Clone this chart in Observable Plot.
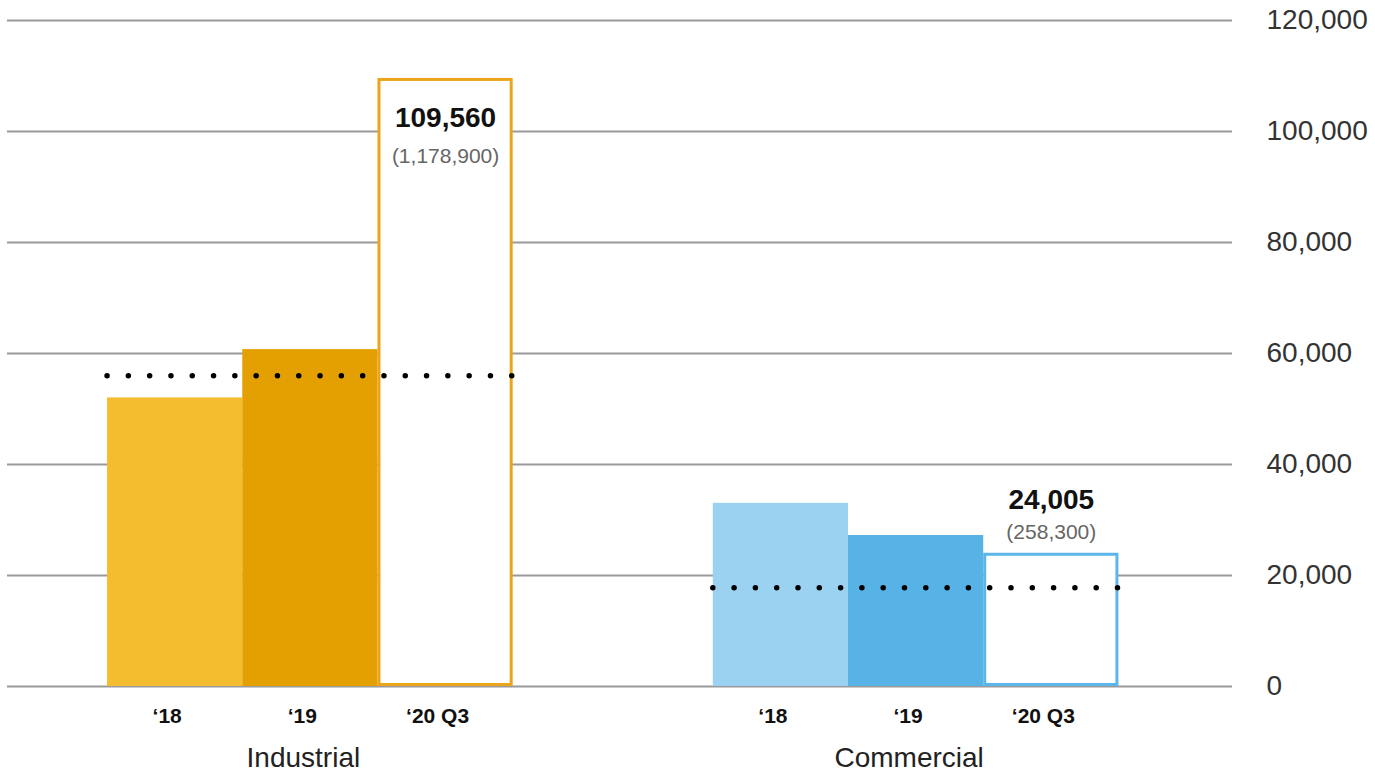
<!DOCTYPE html>
<html><head><meta charset="utf-8">
<script src="https://cdn.jsdelivr.net/npm/d3@7"></script>
<script src="https://cdn.jsdelivr.net/npm/@observablehq/plot@0.6"></script>
<style>html,body{margin:0;padding:0;background:#fff;} #chart svg{display:block}</style>
</head><body><div id="chart"></div>
<script>
const groups = ["Industrial", "Commercial"];
const years = ["‘18", "‘19", "‘20 Q3"];
const industrialValues = [52000, 60700, 109560];
const commercialValues = [33000, 27200, 24005];
const averages = [56000, 17800];
const latestLabels = ["109,560", "24,005"];
const latestTotals = ["(1,178,900)", "(258,300)"];
const yTicks = [0, 20000, 40000, 60000, 80000, 100000, 120000];
const industrialColors = ["#F4BD30", "#E4A000", "#EBA51B"];
const commercialColors = ["#9CD2F1", "#57B2E5", "#5CB6EA"];

const GROUP_STEP = 4.48;
const rows = [];
groups.forEach((g, gi) => {
  const vals = gi === 0 ? industrialValues : commercialValues;
  const cols = gi === 0 ? industrialColors : commercialColors;
  years.forEach((yr, yi) => {
    rows.push({group: g, gi, year: yr, value: vals[yi],
      x1: gi * GROUP_STEP + yi, x2: gi * GROUP_STEP + yi + 1,
      xm: gi * GROUP_STEP + yi + 0.5,
      latest: yi === years.length - 1, color: cols[yi]});
  });
});
const groupRows = groups.map((g, gi) => ({
  group: g, gi, avg: averages[gi],
  x1: gi * GROUP_STEP, x2: gi * GROUP_STEP + years.length,
  xm: gi * GROUP_STEP + years.length / 2,
  latestX: gi * GROUP_STEP + years.length - 0.5,
  latestValue: (gi === 0 ? industrialValues : commercialValues)[years.length - 1],
  label: latestLabels[gi], total: latestTotals[gi]
}));
const xMin = d3.min(rows, d => d.x1) - 0.74;
const xMax = d3.max(rows, d => d.x2) + 0.84;

const chart = Plot.plot({
  width: 1375,
  height: 773,
  marginLeft: 7,
  marginRight: 143,
  marginTop: 20,
  marginBottom: 87,
  style: {fontFamily: "'Liberation Sans', Arial, Helvetica, sans-serif", fontSize: "28px", color: "#333", background: "#fff"},
  x: {type: "linear", domain: [xMin, xMax], axis: null},
  y: {domain: [0, 120000], axis: null},
  marks: [
    Plot.ruleY(yTicks, {stroke: "#9a9a9a", strokeWidth: 2}),
    Plot.rectY(rows.filter(d => !d.latest), {x1: "x1", x2: "x2", y: "value", fill: "color"}),
    Plot.rectY(rows.filter(d => d.latest), {x1: "x1", x2: "x2", y: "value", fill: "white", stroke: "color", strokeWidth: 3, inset: 1.5}),
    Plot.ruleY(groupRows, {x1: "x1", x2: "x2", y: "avg", stroke: "#000", strokeWidth: 5.5, strokeDasharray: "0 21.3", strokeLinecap: "round"}),
    Plot.axisY({anchor: "right", ticks: yTicks, tickSize: 0, tickPadding: 34, tickFormat: d3.format(","), fontSize: 28, color: "#333"}),
    Plot.text(rows, {x: "xm", y: () => 0, text: "year", dy: 30, dx: -8, fontSize: 21, fontWeight: "bold", fill: "#111", lineAnchor: "middle"}),
    Plot.text(groupRows, {x: "xm", y: () => 0, text: "group", dy: 72, dx: -7, fontSize: 28, fill: "#222", lineAnchor: "middle"}),
    Plot.text(groupRows.filter(d => d.gi === 0), {x: "latestX", y: "latestValue", text: "label", dy: 40, fontSize: 28, fontWeight: "bold", fill: "#111", lineAnchor: "middle"}),
    Plot.text(groupRows.filter(d => d.gi === 0), {x: "latestX", y: "latestValue", text: "total", dy: 78, fontSize: 21, fill: "#666", lineAnchor: "middle"}),
    Plot.text(groupRows.filter(d => d.gi === 1), {x: "latestX", y: "latestValue", text: "label", dy: -53, fontSize: 28, fontWeight: "bold", fill: "#111", lineAnchor: "middle"}),
    Plot.text(groupRows.filter(d => d.gi === 1), {x: "latestX", y: "latestValue", text: "total", dy: -21, fontSize: 21, fill: "#666", lineAnchor: "middle"})
  ]
});
document.getElementById("chart").append(chart);
</script>
</body></html>
